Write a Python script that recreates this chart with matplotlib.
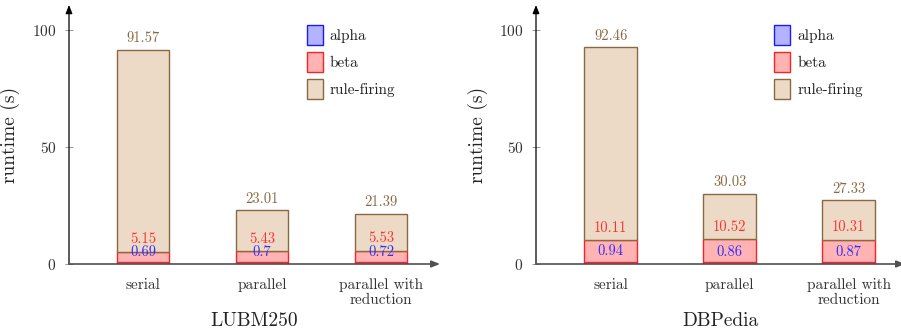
import matplotlib
matplotlib.use("Agg")
import matplotlib.pyplot as plt
from matplotlib.patches import Patch

plt.rcParams['font.family'] = ['cmr10', 'DejaVu Serif']
plt.rcParams['axes.formatter.use_mathtext'] = True
plt.rcParams['mathtext.fontset'] = 'cm'

categories = ["serial", "parallel", "parallel with\nreduction"]
datasets = ["LUBM250", "DBPedia"]
# cumulative (stacked) values as labelled in the chart
lubm_alpha = [0.69, 0.70, 0.72]
lubm_beta = [5.15, 5.43, 5.53]
lubm_total = [91.57, 23.01, 21.39]
dbp_alpha = [0.94, 0.86, 0.87]
dbp_beta = [10.11, 10.52, 10.31]
dbp_total = [92.46, 30.03, 27.33]
series_names = ["alpha", "beta", "rule-firing"]
yticks = [0, 50, 100]

fills = ["#b3b3ff", "#ffb3b3", "#ecdac6"]
edges = ["#1a1aff", "#ff2020", "#8b6842"]
textc = ["#3030ff", "#ff3030", "#8b6842"]
label_offsets = [2.4, 4.0, 3.2]

W, H = 901, 330
fig = plt.figure(figsize=(W / 100, H / 100), dpi=100)

panels = [
    (datasets[0], lubm_alpha, lubm_beta, lubm_total, 69, 440, 0.378, 20),
    (datasets[1], dbp_alpha, dbp_beta, dbp_total, 536, 905, 0.372, 488),
]

x = [1, 2, 3]
bw = 0.445
ymax = 110.6
fs = 11
for name, a, b, t, x0, x1, xlo, ylab_x in panels:
    ax = fig.add_axes([x0 / W, 66 / H, (x1 - x0) / W, 259 / H])
    ax.patch.set_alpha(0)
    xhi = xlo + (x1 - x0) / 119.0
    ax.set_xlim(xlo, xhi)
    ax.set_ylim(0, ymax)
    for s in ax.spines.values():
        s.set_visible(False)
    cum = [a, b, t]
    bottoms = [[0, 0, 0], a, b]
    for k in range(3):
        heights = [cum[k][i] - bottoms[k][i] for i in range(3)]
        ax.bar(x, heights, bw, bottom=bottoms[k], color=fills[k],
               edgecolor=edges[k], linewidth=1.0, zorder=2 + k * 0.1)
        for i in range(3):
            ax.annotate(f"{cum[k][i]:g}", (x[i], cum[k][i]),
                        xytext=(0, label_offsets[k]),
                        textcoords="offset points", ha="center", va="bottom",
                        fontsize=10.5, color=textc[k], zorder=5)
    # axes arrows
    ax.annotate("", xy=(0, 1), xytext=(0, 0), xycoords="axes fraction",
                arrowprops=dict(arrowstyle="-|>,head_length=0.5,head_width=0.2",
                                color="black", lw=0.9, shrinkA=0, shrinkB=0),
                annotation_clip=False, zorder=6)
    ax.annotate("", xy=(1, 0), xytext=(0, 0), xycoords="axes fraction",
                arrowprops=dict(arrowstyle="-|>,head_length=0.5,head_width=0.2",
                                color="#505050", lw=1.2, shrinkA=0, shrinkB=0),
                annotation_clip=False, zorder=6)
    ax.set_yticks(yticks)
    ax.tick_params(axis="y", direction="inout", length=6, width=0.6,
                   color="#888888", labelsize=fs, labelcolor="#333333", pad=6)
    ax.set_xticks(x)
    ax.set_xticklabels(categories, fontsize=fs, color="#333333",
                       linespacing=1.1, va="top")
    ax.tick_params(axis="x", length=0, pad=10)
    ax.set_xlabel(name, fontsize=14, color="#222222", labelpad=4)
    ax.set_ylabel("runtime (s)", fontsize=14, color="#222222")
    ax.yaxis.set_label_coords((ylab_x - x0) / (x1 - x0), 0.5)
    handles = [Patch(facecolor=fills[k], edgecolor=edges[k], linewidth=1.0)
               for k in range(3)]
    ax.legend(handles, series_names, loc="upper left",
              bbox_to_anchor=(2.375, 102.0), bbox_transform=ax.transData,
              frameon=False, fontsize=fs, handlelength=1.05, handleheight=1.63,
              labelspacing=0.46, handletextpad=0.45, borderpad=0, borderaxespad=0,
              labelcolor="#222222")

fig.savefig("out.png", dpi=100)
